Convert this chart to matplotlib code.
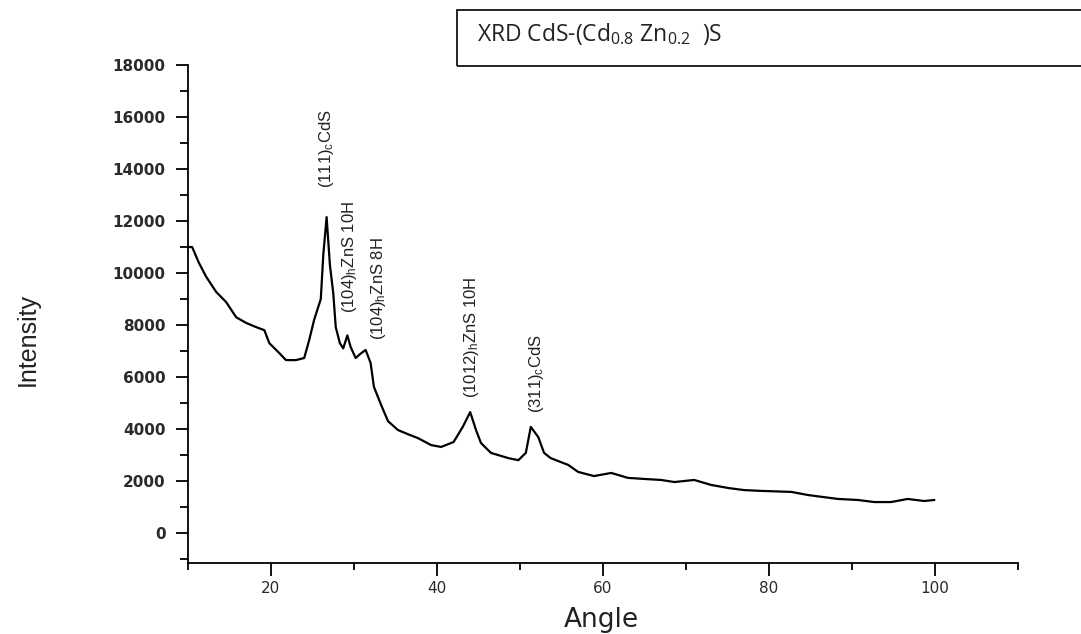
import matplotlib
matplotlib.use("Agg")
import matplotlib.pyplot as plt
from matplotlib.ticker import MultipleLocator
from matplotlib.patches import Rectangle

plt.rcParams["mathtext.default"] = "regular"

# ---- data ----
angle = [10.1, 10.5, 11.3, 12.2, 13.4, 14.6, 15.8, 17.0, 18.2, 19.2, 19.8, 21.0, 21.8,
         23.0, 24.0, 24.6, 25.2, 25.7, 26.0, 26.3, 26.7, 27.1, 27.5, 27.8, 28.3, 28.7,
         29.2, 29.6, 30.2, 30.8, 31.4, 32.0, 32.4, 33.3, 34.1, 35.3, 36.5, 37.7, 39.3,
         40.5, 42.0, 43.1, 44.0, 44.7, 45.3, 46.5, 48.6, 49.8, 50.7, 51.3, 52.2, 52.9,
         53.7, 54.9, 55.8, 57.0, 58.9, 61.0, 63.0, 64.9, 67.0, 68.6, 71.0, 73.0, 75.1,
         77.0, 79.0, 82.7, 84.7, 86.6, 88.3, 90.7, 92.7, 94.7, 96.7, 98.7, 99.9]
intensity = [11000, 11000, 10400, 9850, 9270, 8880, 8300, 8080, 7920, 7800, 7300, 6920, 6650,
             6650, 6730, 7420, 8200, 8700, 9000, 10700, 12150, 10300, 9230, 7920, 7300, 7100,
             7600, 7150, 6730, 6900, 7040, 6540, 5620, 4900, 4300, 3960, 3800, 3650, 3380,
             3310, 3500, 4080, 4650, 3960, 3460, 3080, 2880, 2800, 3080, 4080, 3690, 3080,
             2880, 2730, 2620, 2350, 2190, 2310, 2120, 2080, 2040, 1960, 2040, 1850, 1730,
             1650, 1620, 1580, 1460, 1380, 1310, 1270, 1190, 1190, 1310, 1230, 1270]

peak_labels = [r"(111)$_c$CdS", r"(104)$_h$ZnS 10H", r"(104)$_h$ZnS 8H",
               r"(1012)$_h$ZnS 10H", r"(311)$_c$CdS"]
peak_x = [26.7, 29.5, 32.9, 44.2, 52.0]
peak_y = [13270, 8460, 7420, 5190, 4620]

yticks = [0, 2000, 4000, 6000, 8000, 10000, 12000, 14000, 16000, 18000]
xticks = [20, 40, 60, 80, 100]
title_text = r"XRD CdS-(Cd$_{0.8}$ Zn$_{0.2}$  )S"

W, H = 1081, 634
fig = plt.figure(figsize=(W / 100, H / 100), dpi=100)
ax = fig.add_axes([188 / W, 1 - 563 / H, (1018 - 188) / W, (563 - 65) / H])

ax.plot(angle, intensity, color="black", lw=1.6)

ax.set_xlim(10, 110)
ax.set_ylim(-1154, 18000)
ax.spines["top"].set_visible(False)
ax.spines["right"].set_visible(False)
for s in ("left", "bottom"):
    ax.spines[s].set_linewidth(1.3)

ax.set_xticks(xticks)
ax.xaxis.set_minor_locator(MultipleLocator(10))
ax.set_yticks(yticks)
ax.yaxis.set_minor_locator(MultipleLocator(1000))
ax.set_yticklabels([str(v) for v in yticks], fontsize=11, fontweight="bold",
                   family="DejaVu Sans", color="#2a2a2a")
ax.set_xticklabels([str(v) for v in xticks], fontsize=11, family="DejaVu Sans",
                   color="#2a2a2a")
ax.tick_params(axis="y", which="major", direction="out", length=9, width=1.3, pad=7)
ax.tick_params(axis="y", which="minor", direction="out", length=6, width=1.3)
ax.tick_params(axis="x", which="major", direction="out", length=9, width=1.3, pad=4)
ax.tick_params(axis="x", which="minor", direction="out", length=5, width=1.3)

for lab, px, py in zip(peak_labels, peak_x, peak_y):
    ax.text(px, py, lab, rotation=90, ha="center", va="bottom", fontsize=12,
            family="Liberation Sans", color="#222222")

fig.text(28 / W, 1 - 340 / H, "Intensity", rotation=90, ha="center", va="center",
         fontsize=18, family="Liberation Sans", color="#222222")
fig.text(601 / W, 1 - 620 / H, "Angle", ha="center", va="center", fontsize=19,
         family="DejaVu Sans", color="#222222")

# title box
fig.patches.append(Rectangle((457 / W, 1 - 66 / H), 700 / W, 56 / H,
                             transform=fig.transFigure, fill=False, lw=1.2,
                             edgecolor="black", clip_on=False))
fig.text(477 / W, 1 - 34 / H, title_text, ha="left", va="center", fontsize=16.5,
         family="Open Sans", color="#222222")

fig.savefig("out.png", dpi=100)
